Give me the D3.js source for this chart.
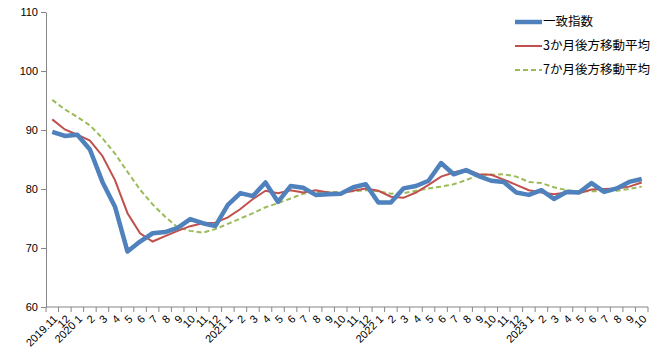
<!DOCTYPE html>
<html><head><meta charset="utf-8">
<script src="https://cdn.jsdelivr.net/npm/d3@7"></script>
<style>body{margin:0;background:#fff}svg{display:block}</style>
</head><body>
<svg id="c" width="669" height="357"></svg>
<script>
const categories = ["2019.11","12","2020 1","2","3","4","5","6","7","8","9","10","11","12",
"2021 1","2","3","4","5","6","7","8","9","10","11","12",
"2022 1","2","3","4","5","6","7","8","9","10","11","12",
"2023 1","2","3","4","5","6","7","8","9","10"];
const coincident = [89.7,89.0,89.2,86.7,81.2,77.0,69.4,71.1,72.5,72.7,73.4,74.9,74.2,73.7,
77.3,79.3,78.8,81.1,77.8,80.5,80.2,79.0,79.1,79.2,80.3,80.8,
77.7,77.7,80.1,80.5,81.4,84.4,82.5,83.2,82.2,81.4,81.2,79.4,
79.0,79.8,78.3,79.5,79.4,81.0,79.5,80.1,81.2,81.7];
const ma3 = [91.8,90.1,89.2,88.2,85.6,81.5,75.9,72.5,71.1,72.0,72.9,73.7,74.2,74.3,
75.2,76.6,78.3,79.7,79.3,79.8,79.4,79.8,79.4,79.3,79.7,80.1,
79.7,78.7,78.5,79.4,80.7,82.1,82.8,83.3,82.5,82.4,81.6,80.7,
79.8,79.4,79.1,79.4,79.3,79.9,80.0,80.1,80.4,81.1];
const ma7 = [95.1,93.5,92.2,90.8,88.6,86.0,82.9,79.9,77.4,75.3,73.5,72.9,72.6,73.2,
74.1,75.0,75.9,76.9,77.6,78.4,79.2,79.5,79.5,79.5,79.6,79.8,
79.6,79.2,79.3,79.7,80.1,80.4,80.8,81.5,82.4,82.4,82.5,82.1,
81.2,81.0,80.3,79.8,79.6,79.6,79.6,79.7,80.0,80.4];
const yTicks = [60,70,80,90,100,110];
const seriesNames = ["一致指数","3か月後方移動平均","7か月後方移動平均"];

const svg = d3.select("#c");
const font = "'Liberation Sans', 'Noto Sans CJK JP', sans-serif";
const x = d3.scaleBand().domain(d3.range(categories.length)).range([46,648]).padding(0);
const y = d3.scaleLinear().domain([60,110]).range([307,12]);
const axisColor = "#868686";

// Y axis
const ya = svg.append("g").attr("transform","translate(46,0)")
  .call(d3.axisLeft(y).tickValues(yTicks).tickSize(5).tickSizeOuter(0).tickPadding(3));
ya.select(".domain").attr("stroke",axisColor);
ya.selectAll(".tick line").attr("stroke",axisColor);
ya.selectAll("text").attr("font-family",font).attr("font-size",11).attr("fill","#000");

// X axis line + ticks between categories
const xa = svg.append("g");
xa.append("line").attr("x1",x.range()[0]).attr("x2",x.range()[1]).attr("y1",y(60)).attr("y2",y(60)).attr("stroke",axisColor);
const bounds = d3.range(categories.length+1).map(i => i < categories.length ? x(i) : x(i-1)+x.bandwidth());
xa.selectAll("line.t").data(bounds).join("line").attr("class","t")
  .attr("x1",d=>d).attr("x2",d=>d).attr("y1",y(60)).attr("y2",y(60)+5).attr("stroke",axisColor);
xa.selectAll("text").data(categories).join("text")
  .attr("transform",(d,i)=>`translate(${x(i)+x.bandwidth()/2+3},${y(60)+10}) rotate(-45)`)
  .attr("text-anchor","end").attr("dy","0.35em")
  .attr("font-family",font).attr("font-size",11).attr("fill","#000")
  .text(d=>d);

const line = d3.line().x((d,i)=>x(i)+x.bandwidth()/2).y(d=>y(d));
svg.append("path").datum(ma7).attr("d",line).attr("fill","none")
  .attr("stroke","#9BBB59").attr("stroke-width",2).attr("stroke-dasharray","5,3");
svg.append("path").datum(ma3).attr("d",line).attr("fill","none")
  .attr("stroke","#C0504D").attr("stroke-width",2);
svg.append("path").datum(coincident).attr("d",line).attr("fill","none")
  .attr("stroke","#4F81BD").attr("stroke-width",4.5).attr("stroke-linejoin","round");

// Legend
const leg = [
  {name:seriesNames[0],color:"#4F81BD",w:4.5,dash:null,y:22},
  {name:seriesNames[1],color:"#C0504D",w:2,dash:null,y:46},
  {name:seriesNames[2],color:"#9BBB59",w:2,dash:"5,3",y:70}
];
const lg = svg.append("g");
leg.forEach(l=>{
  lg.append("line").attr("x1",515).attr("x2",542).attr("y1",l.y).attr("y2",l.y)
    .attr("stroke",l.color).attr("stroke-width",l.w).attr("stroke-dasharray",l.dash);
  lg.append("text").attr("x",543).attr("y",l.y).attr("dy","0.35em")
    .attr("font-family","'Noto Sans CJK JP', sans-serif").attr("font-size",12.5).attr("fill","#000").text(l.name);
});
</script>
</body></html>
